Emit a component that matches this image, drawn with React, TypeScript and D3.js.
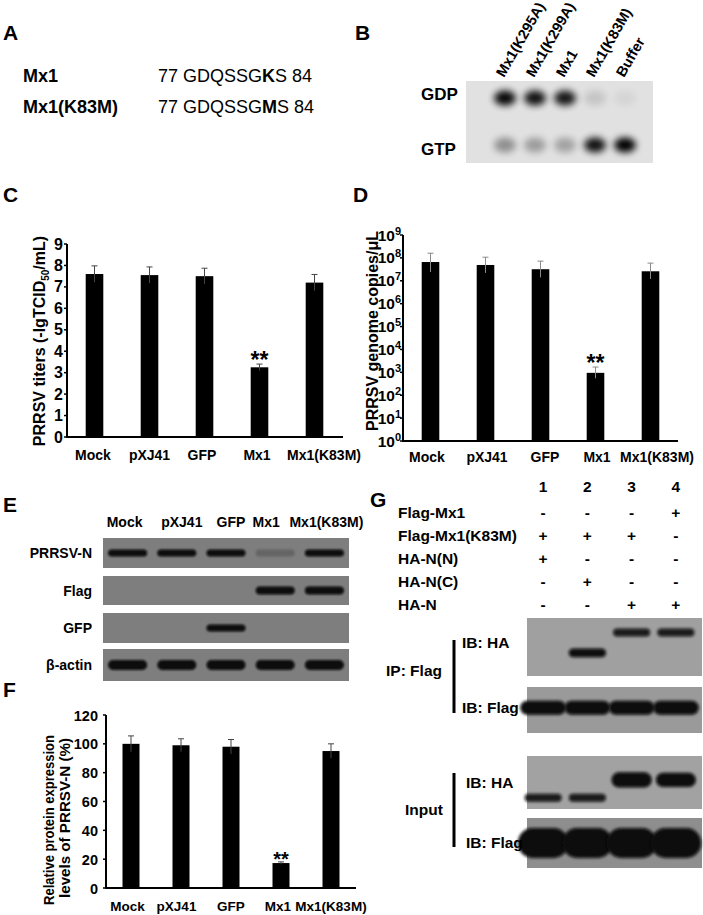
import React from 'react';
import * as d3 from 'd3';

const FONT = '"Liberation Sans", Arial, Helvetica, sans-serif';

// A: GTP-binding motif
const seqNames = ['Mx1', 'Mx1(K83M)'];
const seqBefore = ['77 GDQSSG', '77 GDQSSG'];
const seqSite = ['K', 'M'];
const seqAfter = ['S 84', 'S 84'];

// B: GTPase assay (TLC)
const gtpaseLanes = ['Mx1(K295A)', 'Mx1(K299A)', 'Mx1', 'Mx1(K83M)', 'Buffer'];
const tlcRows = ['GDP', 'GTP'];
const gdpSignal = [0.97, 0.92, 0.9, 0.12, 0.05];
const gtpSignal = [0.36, 0.3, 0.28, 0.92, 1.0];

// C, D, F: shared groups
const groups = ['Mock', 'pXJ41', 'GFP', 'Mx1', 'Mx1(K83M)'];
const significance = ['', '', '', '**', ''];

// C: virus titers
const titerMean = [7.6, 7.55, 7.5, 3.25, 7.2];
const titerSd = [0.38, 0.38, 0.37, 0.15, 0.38];
const titerTicks = [0, 1, 2, 3, 4, 5, 6, 7, 8, 9];

// D: genome copies
const copiesMean = [6.6e7, 4.9e7, 3.2e7, 9.5e2, 2.6e7];
const copiesHigh = [1.6e8, 1.07e8, 7.2e7, 1.7e3, 5.9e7];
const copiesLow = [2.4e7, 2.2e7, 1.4e7, 5.5e2, 1.2e7];
const copiesTickExp = [0, 1, 2, 3, 4, 5, 6, 7, 8, 9];

// E: western blot
const blotRows = ['PRRSV-N', 'Flag', 'GFP', 'β-actin'];
const nBand = [1, 1, 1, 0.22, 1];
const flagBand = [0, 0, 0, 1, 1];
const gfpBand = [0, 0, 1, 0, 0];
const actinBand = [1, 1, 1, 1, 1];

// F: relative expression
const relMean = [100, 99, 98, 17.3, 95];
const relSd = [5.5, 4.5, 5, 0.8, 5];
const relTicks = [0, 20, 40, 60, 80, 100, 120];

// G: co-IP
const coipLanes = ['1', '2', '3', '4'];
const constructs = ['Flag-Mx1', 'Flag-Mx1(K83M)', 'HA-N(N)', 'HA-N(C)', 'HA-N'];
const flagMx1Sign = ['-', '-', '-', '+'];
const flagK83MSign = ['+', '+', '+', '-'];
const haNNSign = ['+', '-', '-', '-'];
const haNCSign = ['-', '+', '-', '-'];
const haNSign = ['-', '-', '+', '+'];
const ipHaAmount = [0, 1.1, 0.9, 0.9];
const ipHaRf = [0.5, 0.6, 0.25, 0.25];
const ipFlagAmount = [1.4, 1.4, 1.4, 1.4];
const inputHaAmount = [0.9, 0.9, 1.9, 1.8];
const inputHaRf = [0.79, 0.79, 0.45, 0.45];
const inputFlagAmount = [3, 3, 3, 3];

const signRows = [flagMx1Sign, flagK83MSign, haNNSign, haNCSign, haNSign];

type BarPanelProps = {
  xRange: [number, number];
  axisEnd: number;
  y: any;
  mean: number[];
  low: number[];
  high: number[];
  ticks: number[];
  tickLabel: (t: number) => React.ReactNode;
  tickRight: number;
  tickFont: number;
  labelY: number;
  labelFont: number;
  labelDx: number[];
  errColor: string;
  starSize: number;
  padding: number;
};

function BarPanel(p: BarPanelProps) {
  const x = d3.scaleBand().domain(groups).range(p.xRange).paddingInner(p.padding).paddingOuter(p.padding / 2);
  const x0 = p.xRange[0];
  const [yBottom, yTop] = p.y.range();
  return (
    <g>
      {groups.map((g, i) => {
        const bx = x(g)!;
        const cx = bx + x.bandwidth() / 2;
        return (
          <g key={g}>
            <rect x={bx} y={p.y(p.mean[i])} width={x.bandwidth()} height={yBottom - p.y(p.mean[i])} fill="#000" />
            <line x1={cx} x2={cx} y1={p.y(p.low[i])} y2={p.y(p.high[i])} stroke={p.errColor} strokeWidth={1} />
            <line x1={cx - 3} x2={cx + 3} y1={p.y(p.high[i])} y2={p.y(p.high[i])} stroke={p.errColor} strokeWidth={1} />
            {significance[i] && (
              <text x={cx} y={p.y(p.high[i]) + 4} textAnchor="middle" fontSize={p.starSize} fontWeight="bold">
                {significance[i]}
              </text>
            )}
            <text x={cx + p.labelDx[i]} y={p.labelY} textAnchor="middle" fontSize={p.labelFont} fontWeight="bold">{g}</text>
          </g>
        );
      })}
      <line x1={x0} x2={x0} y1={yBottom} y2={yTop} stroke="#000" strokeWidth={2} />
      <line x1={x0 - 1} x2={p.axisEnd} y1={yBottom} y2={yBottom} stroke="#000" strokeWidth={2} />
      {p.ticks.map((t) => (
        <g key={t}>
          <line x1={x0 - 3} x2={x0} y1={p.y(t)} y2={p.y(t)} stroke="#000" strokeWidth={1.5} />
          <text x={p.tickRight} y={p.y(t) + 5.5} textAnchor="end" fontSize={p.tickFont} fontWeight="bold">
            {p.tickLabel(t)}
          </text>
        </g>
      ))}
    </g>
  );
}

type BlotProps = {
  lanes: string[];
  laneRange: [number, number];
  amounts: number[];
  rf?: number[];
  x: number; y: number; w: number; h: number;
  bg: string;
  bandH: number;
  bandW: number;
  filter: string;
};

function Blot(p: BlotProps) {
  const lx = d3.scaleBand().domain(p.lanes).range(p.laneRange);
  const ry = d3.scaleLinear().domain([0, 1]).range([p.y, p.y + p.h]);
  return (
    <g>
      <rect x={p.x} y={p.y} width={p.w} height={p.h} fill={p.bg} />
      {p.lanes.map((l, i) => {
        const a = p.amounts[i];
        if (a <= 0) return null;
        const cx = lx(l)! + lx.bandwidth() / 2;
        const cy = ry(p.rf ? p.rf[i] : 0.5);
        const bh = p.bandH * Math.max(1, a);
        const bw = p.bandW * (a > 1 ? Math.min(1.15, 1 + (a - 1) * 0.1) : 1);
        return (
          <rect key={l} x={cx - bw / 2} y={cy - bh / 2} width={bw} height={bh} rx={bh / 2}
            fill="#080808" opacity={Math.min(1, a)} filter={p.filter} />
        );
      })}
    </g>
  );
}

export default function App() {
  // C
  const yC = d3.scaleLinear().domain([0, 9]).range([437, 244]);
  // D
  const yD = d3.scaleLog().domain([1, 1e9]).range([441, 235]);
  // F
  const yF = d3.scaleLinear().domain([0, 120]).range([888, 715]);
  // B
  const laneB = d3.scaleBand().domain(gtpaseLanes).range([490, 640]);
  const rowB = d3.scalePoint().domain(tlcRows).range([98, 145]);
  // E
  const eLanes = groups;
  const laneE = d3.scaleBand().domain(eLanes).range([103, 349]);
  const eLabelDx = [-3, 5, 5, -9, 2];
  const eRowsY: [number, number][] = [[538, 568], [576, 605], [613, 643], [649, 681]];
  const eBands = [nBand, flagBand, gfpBand, actinBand];
  const eBandH = [7, 8, 7, 10];
  // G
  const laneG = d3.scaleBand().domain(coipLanes).range([521, 698]);
  const rowG = d3.scalePoint().domain(constructs).range([513, 605]);

  return (
    <svg width={703} height={915} viewBox="0 0 703 915"
      style={{ position: 'absolute', left: 0, top: 0, background: '#fff' }}
      fontFamily={FONT} fill="#000">
      <defs>
        <filter id="bE" x="-30%" y="-150%" width="160%" height="400%"><feGaussianBlur stdDeviation="1.3" /></filter>
        <filter id="bG" x="-30%" y="-150%" width="160%" height="400%"><feGaussianBlur stdDeviation="1.6" /></filter>
        <filter id="bB" x="-100%" y="-100%" width="300%" height="300%"><feGaussianBlur stdDeviation="3.6" /></filter>
      </defs>

      {/* panel letters */}
      <g fontSize={21} fontWeight="bold">
        <text x={3} y={40}>A</text>
        <text x={355} y={40}>B</text>
        <text x={3} y={202}>C</text>
        <text x={353} y={202}>D</text>
        <text x={3} y={512}>E</text>
        <text x={3} y={697}>F</text>
        <text x={370} y={507}>G</text>
      </g>

      {/* A */}
      {seqNames.map((n, i) => (
        <g key={n}>
          <text x={23} y={82 + i * 31} fontSize={18} fontWeight="bold">{n}</text>
          <text x={158} y={82 + i * 31} fontSize={18}>
            {seqBefore[i]}<tspan fontWeight="bold">{seqSite[i]}</tspan>{seqAfter[i]}
          </text>
        </g>
      ))}

      {/* B */}
      <rect x={466} y={81} width={187} height={82} fill="#e1e1e1" />
      {gtpaseLanes.map((l, i) => {
        const cx = laneB(l)! + laneB.bandwidth() / 2;
        return (
          <g key={l}>
            <ellipse cx={cx} cy={rowB('GDP')} rx={11} ry={7.5} fill="#000" opacity={gdpSignal[i]} filter="url(#bB)" />
            <ellipse cx={cx} cy={rowB('GTP')} rx={11} ry={7.5} fill="#000" opacity={gtpSignal[i]} filter="url(#bB)" />
            <text transform={`translate(${cx - 1},78) rotate(-60)`} fontSize={14.5} fontWeight="bold">{l}</text>
          </g>
        );
      })}
      {tlcRows.map((r) => (
        <text key={r} x={421} y={rowB(r)! + (r === 'GDP' ? 2 : 10)} fontSize={17} fontWeight="bold">{r}</text>
      ))}

      {/* C */}
      <BarPanel xRange={[67, 342]} axisEnd={343} y={yC}
        mean={titerMean} low={titerMean.map((m, i) => m - titerSd[i])} high={titerMean.map((m, i) => m + titerSd[i])}
        ticks={titerTicks} tickLabel={(t) => String(t)} tickRight={63} tickFont={16}
        labelY={460} labelFont={14} labelDx={[-1.5, 0, -2.5, -2.5, 9.5]}
        errColor="#444" starSize={23} padding={0.68} />
      <text transform="translate(45,341) rotate(-90)" textAnchor="middle" fontSize={16} fontWeight="bold">
        PRRSV titers (-lgTCID<tspan dy={4} fontSize={10}>50</tspan><tspan dy={-4}>/mL)</tspan>
      </text>

      {/* D */}
      <BarPanel xRange={[403, 678]} axisEnd={678} y={yD}
        mean={copiesMean} low={copiesLow} high={copiesHigh}
        ticks={copiesTickExp.map((e) => Math.pow(10, e))}
        tickLabel={(t) => (<>10<tspan dy={-6} fontSize={11}>{Math.round(Math.log10(t))}</tspan></>)}
        tickRight={401} tickFont={15.5}
        labelY={462} labelFont={14} labelDx={[-3.5, 1.5, 4.5, 1.5, 6.5]}
        errColor="#8a8a8a" starSize={23} padding={0.68} />
      <text transform="translate(378,331) rotate(-90)" textAnchor="middle" fontSize={16} fontWeight="bold">
        PRRSV genome copies/μL
      </text>

      {/* E */}
      {eLanes.map((l, i) => (
        <text key={l} x={laneE(l)! + laneE.bandwidth() / 2 + eLabelDx[i]} y={527} textAnchor="middle" fontSize={14} fontWeight="bold">{l}</text>
      ))}
      {blotRows.map((r, i) => (
        <g key={r}>
          <text x={92} y={(eRowsY[i][0] + eRowsY[i][1]) / 2 + 5} textAnchor="end" fontSize={14} fontWeight="bold">{r}</text>
          <Blot lanes={eLanes} laneRange={[103, 349]} amounts={eBands[i]}
            x={103} y={eRowsY[i][0]} w={246} h={eRowsY[i][1] - eRowsY[i][0]}
            bg="#7e7e7e" bandH={eBandH[i]} bandW={39} filter="url(#bE)" />
        </g>
      ))}

      {/* F */}
      <BarPanel xRange={[106, 356]} axisEnd={356} y={yF}
        mean={relMean} low={relMean.map((m, i) => m - relSd[i])} high={relMean.map((m, i) => m + relSd[i])}
        ticks={relTicks} tickLabel={(t) => String(t)} tickRight={98} tickFont={14.5}
        labelY={911} labelFont={13.5} labelDx={[-3.5, -4.5, 0, -3, 0]}
        errColor="#444" starSize={20} padding={0.66} />
      <text transform="translate(54,820) rotate(-90)" textAnchor="middle" fontSize={15} fontWeight="bold"
        textLength={170} lengthAdjust="spacingAndGlyphs">
        Relative protein  expression
      </text>
      <text transform="translate(70,818) rotate(-90)" textAnchor="middle" fontSize={15} fontWeight="bold"
        textLength={160} lengthAdjust="spacingAndGlyphs">
        levels of PRRSV-N (%)
      </text>

      {/* G */}
      <Blot lanes={coipLanes} laneRange={[521, 698]} amounts={ipHaAmount} rf={ipHaRf}
        x={527} y={618} w={175} h={58} bg="#a0a0a0" bandH={8} bandW={37} filter="url(#bG)" />
      <Blot lanes={coipLanes} laneRange={[521, 698]} amounts={ipFlagAmount} rf={[0.45, 0.45, 0.45, 0.45]}
        x={527} y={687} w={175} h={46} bg="#9a9a9a" bandH={10} bandW={44} filter="url(#bG)" />
      <Blot lanes={coipLanes} laneRange={[521, 698]} amounts={inputHaAmount} rf={inputHaRf}
        x={527} y={756} w={175} h={53} bg="#a2a2a2" bandH={8} bandW={37} filter="url(#bG)" />
      <Blot lanes={coipLanes} laneRange={[521, 698]} amounts={inputFlagAmount} rf={[0.5, 0.5, 0.5, 0.5]}
        x={527} y={818} w={175} h={50} bg="#8e8e8e" bandH={10} bandW={44} filter="url(#bG)" />
      <g fontSize={15.5} fontWeight="bold">
        {coipLanes.map((l) => (
          <text key={l} x={laneG(l)! + laneG.bandwidth() / 2} y={492} textAnchor="middle">{l}</text>
        ))}
        {constructs.map((c, r) => (
          <g key={c}>
            <text x={398} y={rowG(c)! + 5}>{c}</text>
            {coipLanes.map((l, i) => (
              <text key={l} x={laneG(l)! + laneG.bandwidth() / 2} y={rowG(c)! + 5} textAnchor="middle">{signRows[r][i]}</text>
            ))}
          </g>
        ))}
        <text x={462} y={648}>IB: HA</text>
        <text x={462} y={713}>IB: Flag</text>
        <text x={386} y={676}>IP: Flag</text>
        <text x={466} y={788}>IB: HA</text>
        <text x={466} y={848}>IB: Flag</text>
        <text x={405} y={815}>Input</text>
      </g>
      <rect x={452.5} y={640} width={3} height={73} fill="#000" />
      <rect x={452.5} y={773} width={3} height={74} fill="#000" />
    </svg>
  );
}
